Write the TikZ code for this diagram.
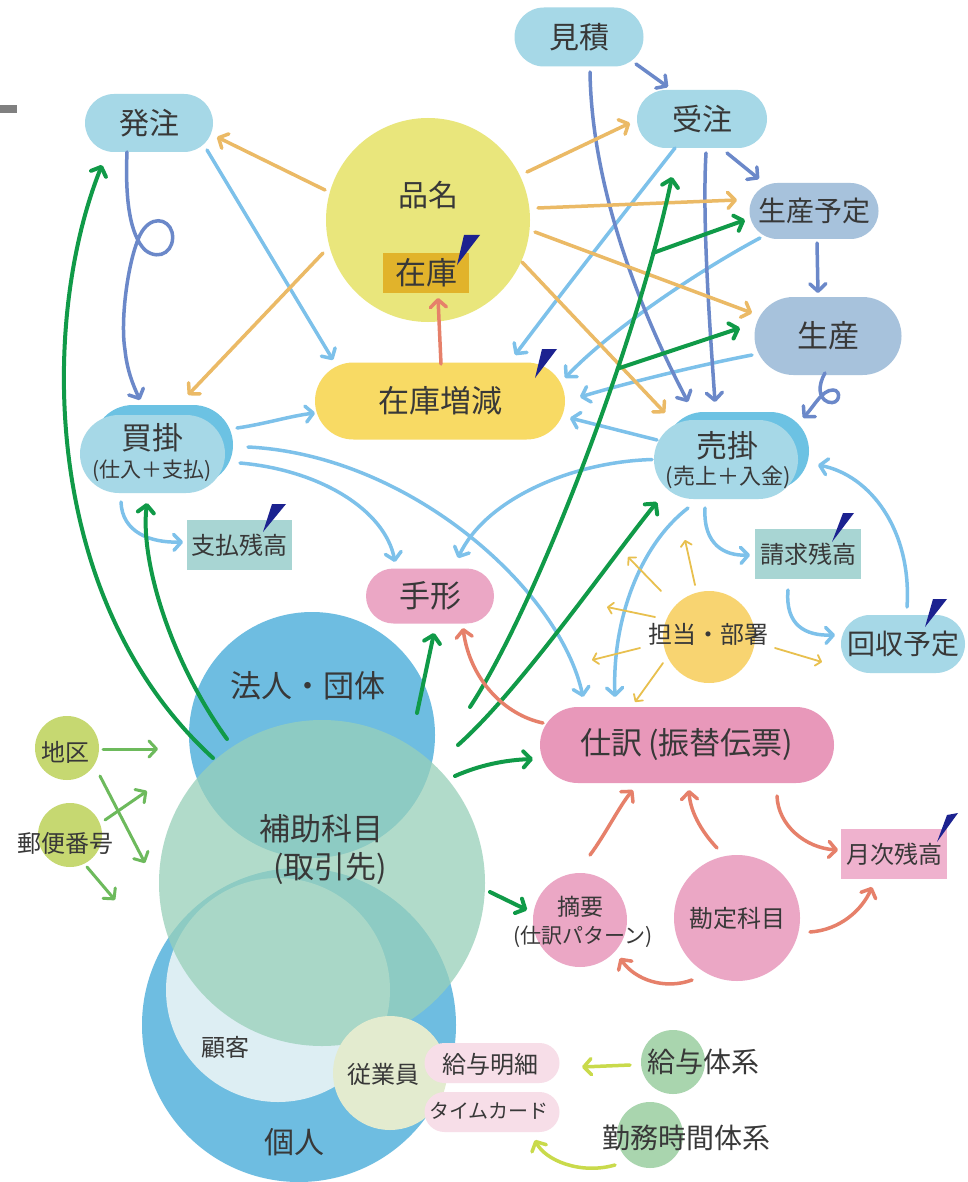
\documentclass[tikz,border=0pt]{standalone}
\usepackage{fontspec}
\setmainfont{Noto Sans CJK JP}
\usetikzlibrary{shapes.misc,arrows.meta,calc}
\definecolor{cPill}{HTML}{A6D8E7}
\definecolor{cPillD}{HTML}{6CC2E3}
\definecolor{cSei}{HTML}{A7C2DC}
\definecolor{cHin}{HTML}{E9E67C}
\definecolor{cZai}{HTML}{E1B32B}
\definecolor{cZzg}{HTML}{F8DA64}
\definecolor{cTeal}{HTML}{A8D5D3}
\definecolor{cPink}{HTML}{EBA7C5}
\definecolor{cShi}{HTML}{E898BA}
\definecolor{cGet}{HTML}{EFB2CE}
\definecolor{cTan}{HTML}{F8D471}
\definecolor{cBlue}{HTML}{6EBDE1}
\definecolor{cKok}{HTML}{DDEEF3}
\definecolor{cHojo}{HTML}{98D0B9}
\definecolor{cJug}{HTML}{E3EBCF}
\definecolor{cPale}{HTML}{F7DEE8}
\definecolor{cKyu}{HTML}{A9D5AE}
\definecolor{cChi}{HTML}{C6D871}
\definecolor{lSky}{HTML}{7DC1EA}
\definecolor{lPur}{HTML}{6B88C9}
\definecolor{lOra}{HTML}{EBBA66}
\definecolor{lGrn}{HTML}{109A48}
\definecolor{lMgr}{HTML}{6DBA5C}
\definecolor{lSal}{HTML}{E6806A}
\definecolor{lYg}{HTML}{C9DA4B}
\definecolor{lYel}{HTML}{E8C04E}
\definecolor{penc}{HTML}{1C2290}
\definecolor{txt}{HTML}{383838}
\begin{document}
\begin{tikzpicture}[x=1pt,y=-1pt,
  every node/.style={text=txt},
  fs/.style={font=\fontsize{#1}{#1}\selectfont},
  pill/.style={rounded rectangle, inner sep=0pt},
  box/.style={rectangle, inner sep=0pt},
  dot/.style={circle, inner sep=0pt},
  arrowhd/.style={-{Straight Barb[length=7.5pt,width=16pt,round]}},
  smallhd/.style={-{Straight Barb[length=5pt,width=11pt,round]}},
  sky/.style={draw=lSky, line width=3.5pt, line cap=round, arrowhd},
  pur/.style={draw=lPur, line width=3.5pt, line cap=round, arrowhd},
  ora/.style={draw=lOra, line width=3.5pt, line cap=round, arrowhd},
  grn/.style={draw=lGrn, line width=4pt, line cap=round, arrowhd},
  mgr/.style={draw=lMgr, line width=3pt, line cap=round, arrowhd},
  sal/.style={draw=lSal, line width=3.5pt, line cap=round, arrowhd},
  ygr/.style={draw=lYg, line width=3.5pt, line cap=round, arrowhd},
  yel/.style={draw=lYel, line width=1.8pt, line cap=round, smallhd},
]
\fill[white] (0,0) rectangle (967,1182);
\path[use as bounding box] (0,0) rectangle (967,1182);
\fill[black!50] (0,105) rectangle (17,113);

% big circles
\node[dot, fill=cBlue, minimum size=246pt] (houjin) at (312,735) {};
\node[dot, fill=cBlue, minimum size=314pt] (kojin) at (299,1025) {};
\node[dot, fill=cKok, minimum size=224pt] (kokyaku) at (278,990) {};
\node[dot, fill=cHojo, fill opacity=0.75, minimum size=326pt] (hojo) at (322,883) {};
\node[dot, fill=cJug, minimum size=114pt, fs=24] (jugyo) at (390,1073) {};
\node[fs=24] (jugyoT) at (383,1074) {従業員};
\node[fs=31] (houjinT) at (308,686) {法人・団体};
\node[fs=31] (hojoT) at (321,829) {補助科目};
\node[fs=31] (hojoT2) at (330,869) {(取引先)};
\node[fs=24] (kokyakuT) at (225,1047) {顧客};
\node[fs=30] (kojinT) at (294,1142) {個人};

% top nodes
\node[pill, fill=cPill, minimum width=128pt, minimum height=58pt, fs=30] (hatchu) at (149,123) {発注};
\node[pill, fill=cPill, minimum width=129pt, minimum height=59pt, fs=30] (mitsu) at (579,37) {見積};
\node[pill, fill=cPill, minimum width=130pt, minimum height=58pt, fs=30] (juchu) at (702,119) {受注};
\node[pill, fill=cSei, minimum width=129pt, minimum height=56pt, fs=28] (syotei) at (814,211) {生産予定};
\node[pill, fill=cSei, minimum width=147pt, minimum height=78pt, fs=31] (seisan) at (828,336) {生産};
\node[dot, fill=cHin, minimum size=204pt] (hinmei) at (428,220) {};
\node[fs=30] (hinmeiT) at (428,195) {品名};
\node[box, fill=cZai, minimum width=86pt, minimum height=40pt, fs=31] (zaiko) at (426,273) {在庫};
\node[pill, fill=cZzg, minimum width=250pt, minimum height=77pt, fs=31] (zzg) at (440,401) {在庫増減};

% kaikake / urikake
\node[pill, fill=cPillD, minimum width=140pt, minimum height=80pt] (kaiB) at (163,445) {};
\node[pill, fill=cPill, minimum width=145pt, minimum height=78pt] (kai) at (152.5,454) {};
\node[fs=31] (kaiT) at (152,438) {買掛};
\node[fs=21] (kaiS) at (152,471) {(仕入＋支払)};
\node[pill, fill=cPillD, minimum width=144pt, minimum height=78pt] (uriB) at (737,451) {};
\node[pill, fill=cPill, minimum width=144pt, minimum height=79pt] (uri) at (726,459.5) {};
\node[fs=31] (uriT) at (727,446) {売掛};
\node[fs=22] (uriS) at (728,477) {(売上＋入金)};

\node[box, fill=cTeal, minimum width=105pt, minimum height=50pt, fs=24] (shiharai) at (239.5,545) {支払残高};
\node[pill, fill=cPink, minimum width=128pt, minimum height=55pt, fs=31] (tegata) at (430,596) {手形};
\node[box, fill=cTeal, minimum width=106pt, minimum height=50pt, fs=24] (seikyu) at (808,554) {請求残高};
\node[pill, fill=cPill, minimum width=124pt, minimum height=58pt, fs=28] (kaishu) at (903,644) {回収予定};
\node[dot, fill=cTan, minimum size=92pt] (tanto) at (709,637) {};
\node[fs=24] (tantoT) at (708,634) {担当・部署};
\node[pill, fill=cShi, minimum width=294pt, minimum height=76pt, fs=31] (shiwake) at (687,745) {仕訳\hspace{6pt}(振替伝票)};
\node[box, fill=cGet, minimum width=106pt, minimum height=50pt, fs=24] (getsuji) at (894,854) {月次残高};
\node[dot, fill=cPink, minimum size=94pt] (tekiyo) at (580,920) {};
\node[fs=23] (tekiyoT) at (580,907) {摘要};
\node[fs=21] (tekiyoS) at (583,937) {(仕訳パターン)};
\node[dot, fill=cPink, minimum size=126pt, fs=24] (kanjo) at (737,918) {勘定科目};

% bottom
\node[dot, fill=cKyu, minimum size=64pt] (kyuC) at (673,1062) {};
\node[fs=28] (kyuT) at (703,1062) {給与体系};
\node[dot, fill=cKyu, minimum size=66pt] (kinC) at (650,1135) {};
\node[fs=28] (kinT) at (686,1138) {勤務時間体系};
\node[pill, fill=cPale, minimum width=135pt, minimum height=40pt] (meisai) at (492,1063) {};
\node[fs=24] (meisaiT) at (490,1064) {給与明細};
\node[pill, fill=cPale, minimum width=135pt, minimum height=40pt] (tcard) at (492,1112) {};
\node[fs=20] (tcardT) at (489,1111) {タイムカード};
\node[dot, fill=cChi, minimum size=64pt] (chiku) at (67,748) {};
\node[fs=24] (chikuT) at (65,752) {地区};
\node[dot, fill=cChi, minimum size=64pt] (yubin) at (70,835) {};
\node[fs=24] (yubinT) at (65,843) {郵便番号};

% pen marks
\fill[penc] (457,265) -- (464,235) -- (480,235) -- cycle;
\fill[penc] (535,378) -- (542,349) -- (557,349) -- cycle;
\fill[penc] (263,532) -- (272,504) -- (286,504) -- cycle;
\fill[penc] (832,542) -- (843,513) -- (854,513) -- cycle;
\fill[penc] (925,627) -- (933,599) -- (947,599) -- cycle;
\fill[penc] (937,842) -- (947,815) -- (958,813) -- cycle;

% sky blue connectors
\draw[sky] ($(hatchu)+(58,27)$) -- ($(zzg)+(-107,-41)$);
\draw[sky] ($(juchu)+(-27,29)$) .. controls (625,212) and (566,287) .. ($(zzg)+(75,-46)$);
\draw[sky] ($(syotei)+(-54,27)$) .. controls (700,270) and (610,330) .. ($(zzg)+(125,-23)$);
\draw[sky] ($(seisan)+(-76,19)$) .. controls (700,365) and (630,382) .. ($(zzg)+(140,-4)$);
\draw[sky] ($(uri)+(-69,-19.5)$) -- ($(zzg)+(130,17)$);
\draw[sky] ($(kai)+(84.5,-26)$) .. controls (265,424) and (290,416) .. ($(zzg)+(-125,12)$);
\draw[sky] ($(kai)+(87.5,9)$) .. controls (320,470) and (385,510) .. ($(tegata)+(-35,-34)$);
\draw[sky] ($(kai)+(95.5,-7)$) .. controls (410,455) and (560,590) .. ($(shiwake)+(-104,-48)$);
\draw[sky] ($(uri)+(-74,0)$) .. controls (570,462) and (485,500) .. ($(tegata)+(28,-38)$);
\draw[sky] ($(uri)+(-38,48.5)$) .. controls (640,545) and (612,620) .. ($(shiwake)+(-72,-48)$);
\draw[sky] ($(uri)+(-21,48.5)$) .. controls (703,545) and (725,556) .. ($(seikyu)+(-58,1)$);
\draw[sky] ($(seikyu)+(-20,36)$) .. controls (785,625) and (805,636) .. ($(kaishu)+(-68,-9)$);
\draw[sky] ($(kaishu)+(4,-37)$) .. controls (912,530) and (870,475) .. ($(uri)+(92,5.5)$);
\draw[sky] ($(kai)+(-31.5,48)$) .. controls (122,532) and (150,543) .. ($(shiharai)+(-56.5,-3)$);

% purple connectors
\draw[pur] ($(hatchu)+(-22,29)$) .. controls (125,200) and (130,235) .. (145,250)
  .. controls (160,262) and (176,250) .. (172,232)
  .. controls (168,218) and (150,215) .. (140,235)
  .. controls (128,260) and (120,320) .. (125,350)
  .. controls (127,370) and (133,385) .. ($(kai)+(-12.5,-54)$);
\draw[pur] ($(mitsu)+(57,27)$) -- ($(juchu)+(-34,-32)$);
\draw[pur] ($(mitsu)+(11,35)$) .. controls (592,200) and (650,330) .. ($(uri)+(-38,-57.5)$);
\draw[pur] ($(juchu)+(4,34)$) .. controls (702,220) and (710,330) .. ($(uri)+(-11,-57.5)$);
\draw[pur] ($(juchu)+(25,34)$) -- ($(syotei)+(-55,-32)$);
\draw[pur] ($(syotei)+(3,32)$) -- ($(seisan)+(-10,-43)$);
\draw[pur] ($(seisan)+(-3,37)$) .. controls (818,385) and (818,398) .. (828,402)
  .. controls (840,406) and (842,390) .. (833,390)
  .. controls (822,390) and (815,405) .. ($(uri)+(77,-41.5)$);

% orange connectors
\draw[ora] ($(hinmei)+(-103,-30)$) -- ($(hatchu)+(68,14)$);
\draw[ora] ($(hinmei)+(-105,33)$) -- ($(kai)+(35.5,-59)$);
\draw[ora] ($(hinmei)+(99,-48)$) -- ($(juchu)+(-72,4)$);
\draw[ora] ($(hinmei)+(110,-12)$) -- ($(syotei)+(-77,-11)$);
\draw[ora] ($(hinmei)+(107,12)$) -- ($(seisan)+(-76,-23)$);
\draw[ora] ($(hinmei)+(94,42)$) -- ($(uri)+(-61,-46.5)$);

% dark green connectors
\draw[grn] ($(hojo)+(-109,-125)$) .. controls (40,600) and (40,320) .. ($(hatchu)+(-47,42)$);
\draw[grn] ($(hojo)+(-95,-144)$) .. controls (170,660) and (140,560) .. ($(kai)+(-5.5,49)$);
\draw[grn] ($(houjin)+(105,-22)$) -- ($(tegata)+(4,37)$);
\draw[grn] ($(hojo)+(148,-176)$) .. controls (540,600) and (640,330) .. ($(juchu)+(-30,58)$)
  coordinate[pos=0.85] (gb1) coordinate[pos=0.65] (gb2);
\draw[grn] (gb1) -- ($(syotei)+(-69,9)$);
\draw[grn] (gb2) -- ($(seisan)+(-88,-8)$);
\draw[grn] ($(hojo)+(136,-138)$) .. controls (520,690) and (610,560) .. ($(uri)+(-69,42.5)$);
\draw[grn] ($(hojo)+(133,-107)$) .. controls (480,765) and (505,760) .. ($(shiwake)+(-154,14)$);
\draw[grn] ($(hojo)+(168,9)$) -- ($(tekiyo)+(-53,-10)$);

% medium green
\draw[mgr] ($(chiku)+(36,1)$) -- ($(hojo)+(-164,-134)$);
\draw[mgr] ($(chiku)+(33,28)$) -- ($(hojo)+(-177,-20)$);
\draw[mgr] ($(yubin)+(35,-15)$) -- ($(hojo)+(-175,-92)$);
\draw[mgr] ($(yubin)+(17,32)$) -- ($(hojo)+(-207,17)$);

% salmon
\draw[sal] ($(zzg)+(1,-37)$) -- ($(zaiko)+(12,25)$);
\draw[sal] ($(shiwake)+(-144,-22)$) .. controls (505,715) and (470,680) .. ($(tegata)+(33,32)$);
\draw[sal] ($(tekiyo)+(10,-65)$) .. controls (605,835) and (620,805) .. ($(shiwake)+(-54,45)$);
\draw[sal] ($(kanjo)+(-20,-70)$) .. controls (700,830) and (690,810) .. ($(shiwake)+(2,45)$);
\draw[sal] ($(shiwake)+(90,51)$) .. controls (778,825) and (805,848) .. ($(getsuji)+(-56,-4)$);
\draw[sal] ($(kanjo)+(73,14)$) .. controls (840,930) and (862,910) .. ($(getsuji)+(-22,33)$);
\draw[sal] ($(kanjo)+(-45,62)$) .. controls (665,990) and (635,980) .. ($(tekiyo)+(40,38)$);

% yellow-green
\draw[ygr] ($(kyuC)+(-43,3)$) -- ($(meisai)+(90,4)$);
\draw[ygr] ($(kinC)+(-35,30)$) .. controls (580,1175) and (545,1160) .. ($(tcard)+(43,28)$);

% thin yellow from tanto
\draw[yel] ($(tanto)+(-14,-52)$) -- ($(tanto)+(-24,-97)$);
\draw[yel] ($(tanto)+(-48,-46)$) -- ($(tanto)+(-81,-80)$);
\draw[yel] ($(tanto)+(-54,-20)$) -- ($(tanto)+(-102,-30)$);
\draw[yel] ($(tanto)+(-69,11)$) -- ($(tanto)+(-117,23)$);
\draw[yel] ($(tanto)+(-46,26)$) -- ($(tanto)+(-74,65)$);
\draw[yel] ($(tanto)+(66,11)$) -- ($(tanto)+(113,25)$);
\end{tikzpicture}
\end{document}
